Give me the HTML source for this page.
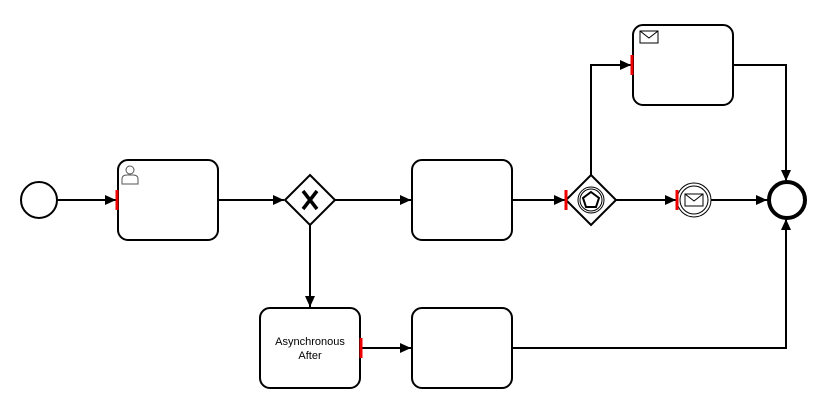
<!DOCTYPE html>
<html><head><style>html,body{margin:0;padding:0;background:#fff}</style></head><body>
<svg width="830" height="412" xmlns="http://www.w3.org/2000/svg" font-family="Liberation Sans, sans-serif">
<defs><marker id="a" markerWidth="12" markerHeight="12" refX="11" refY="6" orient="auto" markerUnits="userSpaceOnUse"><path d="M0,1 L11,6 L0,11 Z" fill="#000"/></marker></defs>
<g fill="none" stroke="#000" stroke-width="2">
<path d="M57,200 H116" marker-end="url(#a)"/>
<path d="M218,200 H284" marker-end="url(#a)"/>
<path d="M335,200 H411" marker-end="url(#a)"/>
<path d="M310,225 V307" marker-end="url(#a)"/>
<path d="M512,200 H565" marker-end="url(#a)"/>
<path d="M616,200 H676" marker-end="url(#a)"/>
<path d="M711,200 H767" marker-end="url(#a)"/>
<path d="M591,175 V65 H631" marker-end="url(#a)"/>
<path d="M733,65 H786 V181" marker-end="url(#a)"/>
<path d="M362,348 H411" marker-end="url(#a)"/>
<path d="M512,348 H786 V219" marker-end="url(#a)"/>
</g>
<g fill="#fff" stroke="#000" stroke-width="2">
<circle cx="39" cy="200" r="18"/>
<rect x="118" y="160" width="100" height="80" rx="10"/>
<path d="M310,175 L335,200 L310,225 L285,200 Z"/>
<rect x="412" y="160" width="100" height="80" rx="10"/>
<path d="M591,175 L616,200 L591,225 L566,200 Z"/>
<rect x="633" y="25" width="100" height="80" rx="10"/>
<rect x="260" y="308" width="100" height="80" rx="10"/>
<rect x="412" y="308" width="100" height="80" rx="10"/>
<circle cx="787" cy="200" r="18" stroke-width="4"/>
</g>
<g fill="none" stroke="#000" stroke-width="1">
<circle cx="694" cy="200" r="17"/><circle cx="694" cy="200" r="14"/>
<rect x="685" y="194" width="18" height="12"/><path d="M685,194 L694,201 L703,194"/>
<circle cx="591" cy="200" r="13"/><circle cx="591" cy="200" r="11"/>
<path d="M591,192 L599,198 L596,207 L586,207 L583,198 Z" stroke-width="2"/>
<rect x="640" y="31" width="18" height="12"/><path d="M640,31 L649,38 L658,31"/>
<g stroke="#555"><circle cx="130" cy="170" r="4"/><path d="M122,184 V179 Q122,175 127,175 H133 Q138,175 138,179 V184 Z"/></g>
</g>
<path d="M303,191 L317,209 M317,191 L303,209" stroke="#000" stroke-width="3.5"/>
<g stroke="#e00" stroke-width="3">
<path d="M117,190 V210"/><path d="M566,190 V210"/><path d="M677,190 V210"/><path d="M632,55 V75"/><path d="M361,338 V358"/>
</g>
<text x="310" y="345" font-size="11" text-anchor="middle" fill="#000">Asynchronous</text>
<text x="310" y="359" font-size="11" text-anchor="middle" fill="#000">After</text>
</svg>
</body></html>
